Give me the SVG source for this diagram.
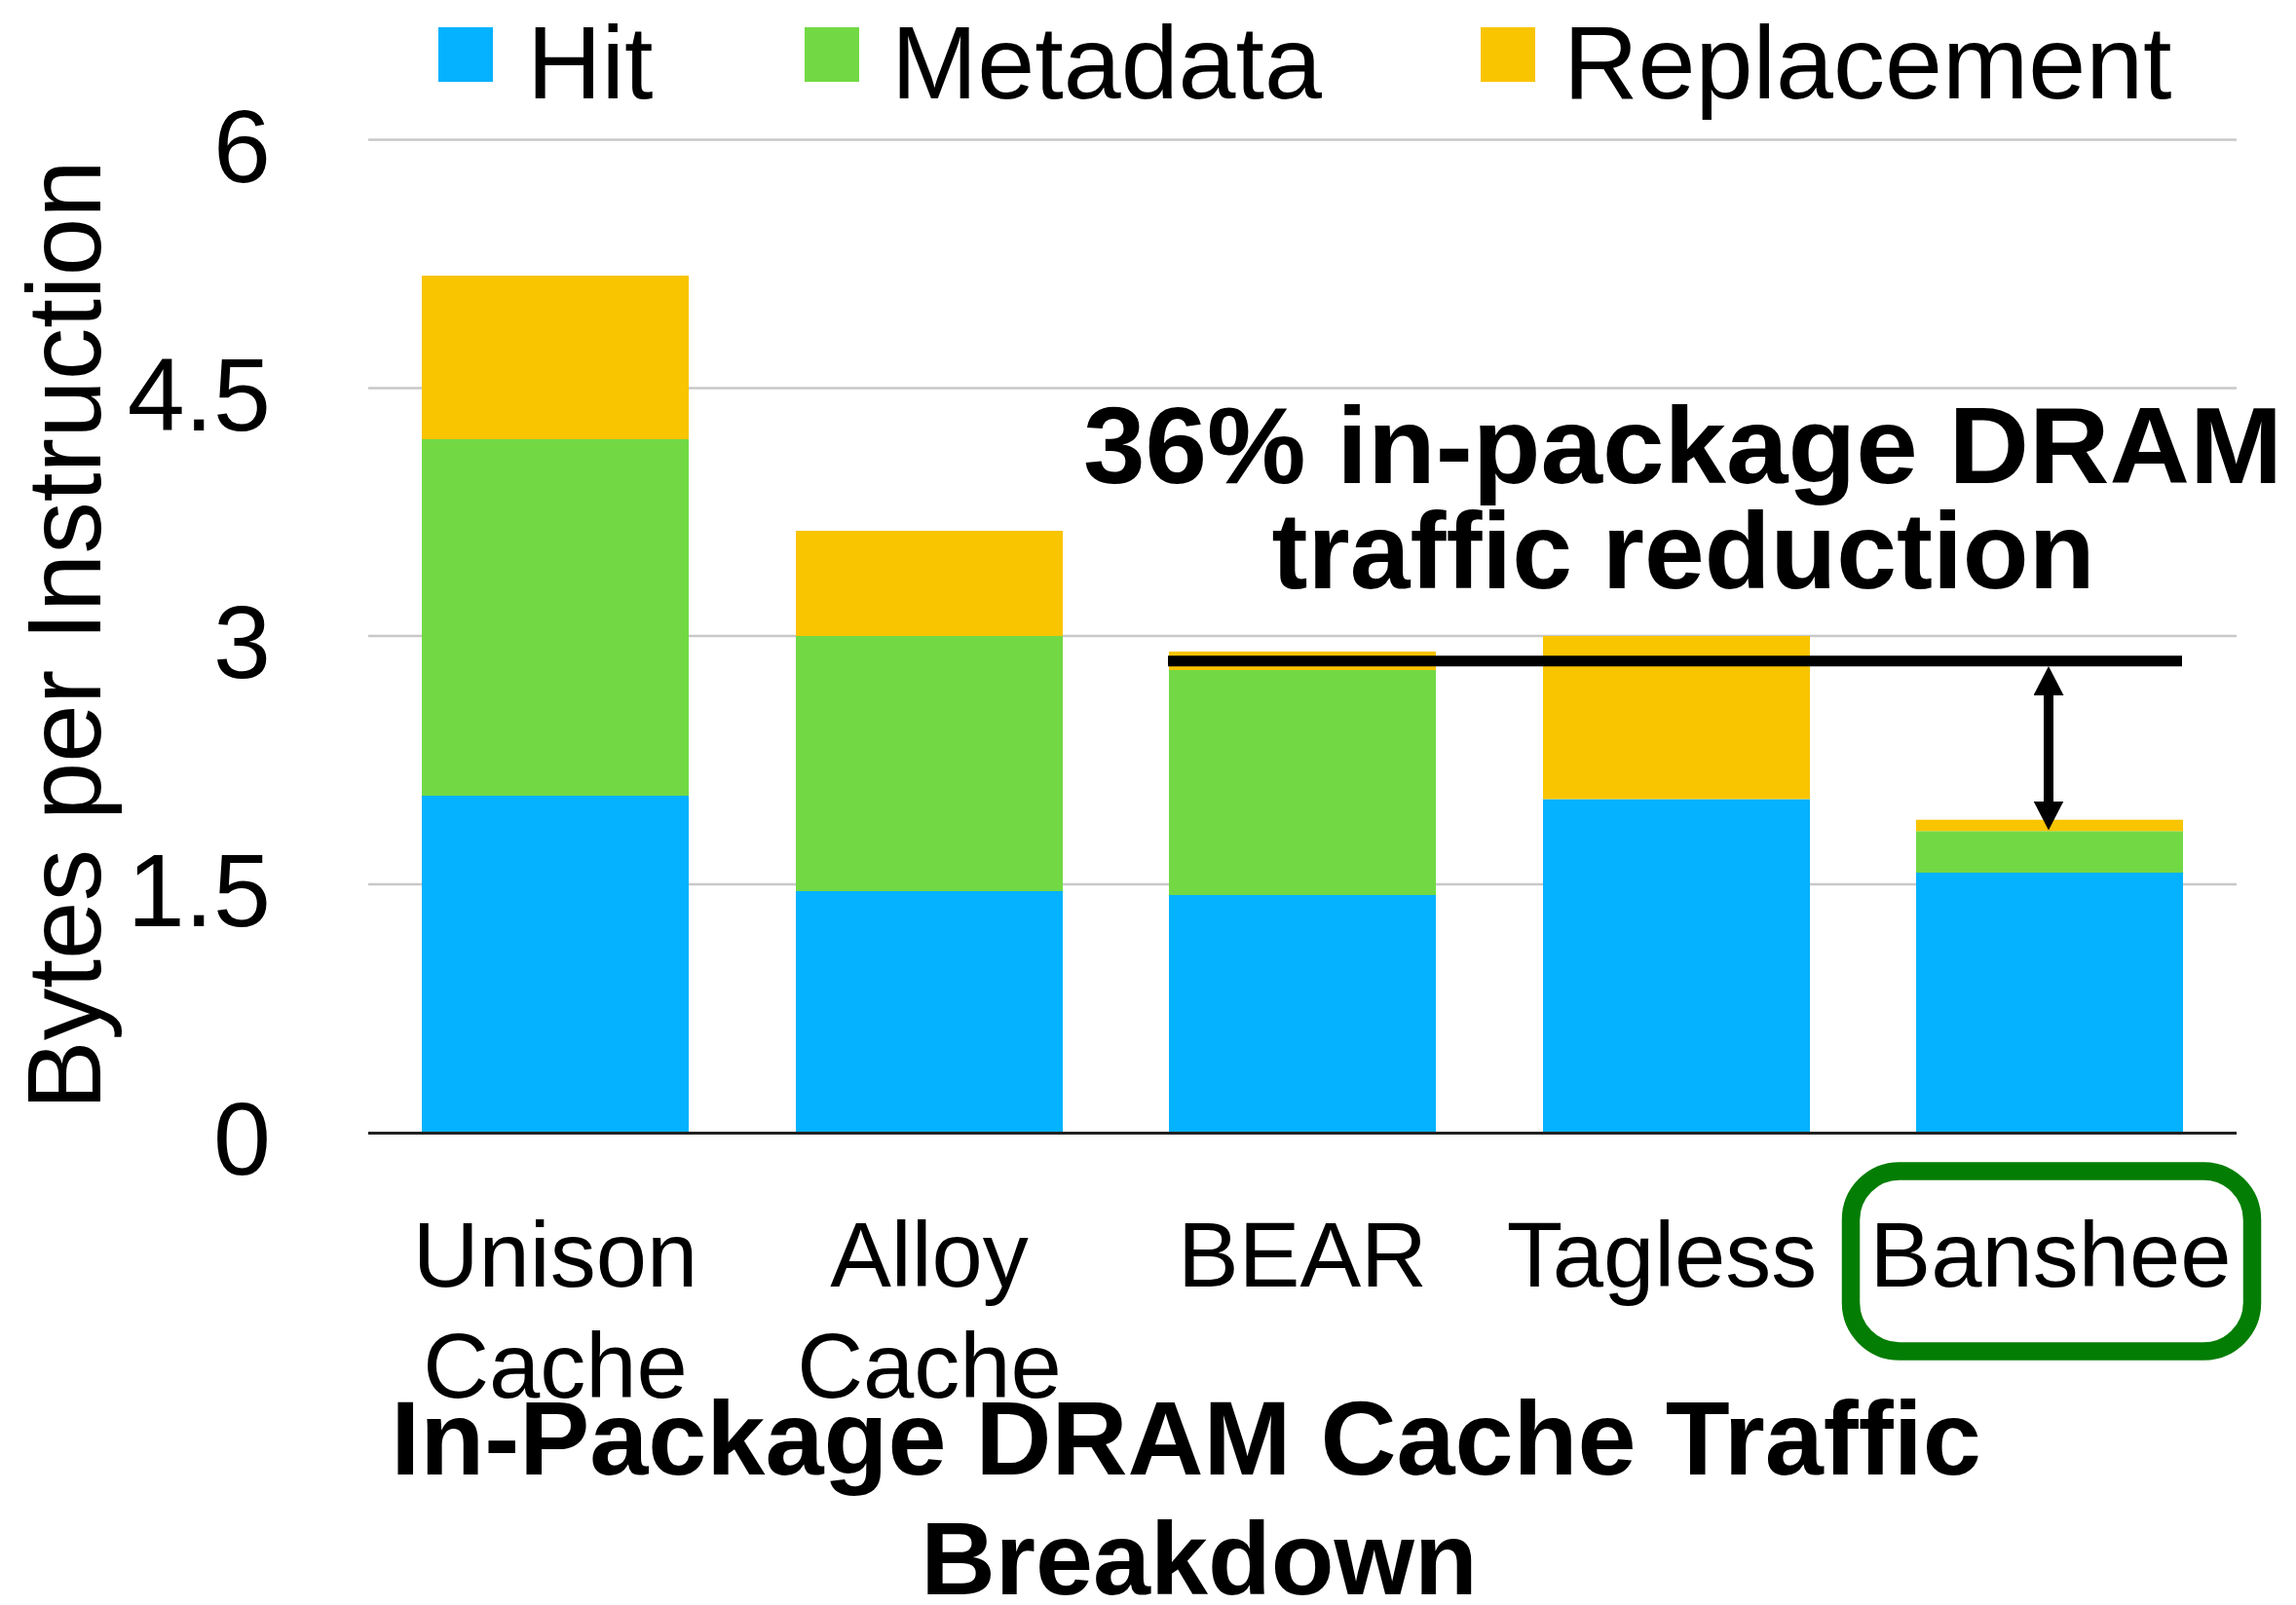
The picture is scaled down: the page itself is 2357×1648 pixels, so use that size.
<svg xmlns="http://www.w3.org/2000/svg" width="2357" height="1648" viewBox="0 0 2357 1648">
  <style>
    .hit { fill: #04B2FF; }
    .meta { fill: #72D944; }
    .repl { fill: #F9C400; }
    .grid { stroke: #C8C8C8; stroke-width: 2.5; }
    .axis { stroke: #222222; stroke-width: 3; }
    .lbl { font-family: "Liberation Sans", Arial, sans-serif; fill: #000; }
    .legend { font-size: 106px; }
    .tick { font-size: 106px; text-anchor: end; }
    .cat { font-size: 94px; text-anchor: middle; }
    .bold { font-weight: bold; text-anchor: middle; }
  </style>
  <defs>
    <marker id="head" viewBox="0 0 30 31" refX="14" refY="15.5" markerWidth="30" markerHeight="31" markerUnits="userSpaceOnUse" orient="auto-start-reverse">
      <path d="M0,0 L30,15.5 L0,31 z" fill="#000"/>
    </marker>
  </defs>
  <rect width="2357" height="1648" fill="#FFFFFF"/>

  <g id="gridlines">
    <line class="grid" x1="378" y1="143.5" x2="2296" y2="143.5"/>
    <line class="grid" x1="378" y1="398.5" x2="2296" y2="398.5"/>
    <line class="grid" x1="378" y1="653" x2="2296" y2="653"/>
    <line class="grid" x1="378" y1="908" x2="2296" y2="908"/>
  </g>

  <g id="legend">
    <rect class="hit" x="450" y="28" width="56" height="56"/>
    <text class="lbl legend" x="541" y="101">Hit</text>
    <rect class="meta" x="826" y="28" width="56" height="56"/>
    <text class="lbl legend" x="915" y="101">Metadata</text>
    <rect class="repl" x="1520" y="28" width="56" height="56"/>
    <text class="lbl legend" x="1605" y="101">Replacement</text>
  </g>

  <g id="y-axis">
    <text class="lbl" font-size="107" text-anchor="middle" transform="translate(103,652) rotate(-90)">Bytes per Instruction</text>
    <text class="lbl tick" x="278" y="187">6</text>
    <text class="lbl tick" x="278" y="442">4.5</text>
    <text class="lbl tick" x="278" y="696">3</text>
    <text class="lbl tick" x="278" y="951">1.5</text>
    <text class="lbl tick" x="278" y="1206">0</text>
  </g>

  <g id="bar-unison">
    <rect class="hit" x="433" y="817" width="274" height="346"/>
    <rect class="meta" x="433" y="451" width="274" height="366"/>
    <rect class="repl" x="433" y="283" width="274" height="168"/>
  </g>
  <g id="bar-alloy">
    <rect class="hit" x="817" y="915" width="274" height="248"/>
    <rect class="meta" x="817" y="653" width="274" height="262"/>
    <rect class="repl" x="817" y="545" width="274" height="108"/>
  </g>
  <g id="bar-bear">
    <rect class="hit" x="1200" y="919" width="274" height="244"/>
    <rect class="meta" x="1200" y="688" width="274" height="231"/>
    <rect class="repl" x="1200" y="669" width="274" height="19"/>
  </g>
  <g id="bar-tagless">
    <rect class="hit" x="1584" y="820.5" width="274" height="342.5"/>
    <rect class="repl" x="1584" y="653" width="274" height="167.5"/>
  </g>
  <g id="bar-banshee">
    <rect class="hit" x="1967" y="896" width="274" height="267"/>
    <rect class="meta" x="1967" y="853.3" width="274" height="42.7"/>
    <rect class="repl" x="1967" y="841.7" width="274" height="11.6"/>
  </g>

  <line class="axis" x1="378" y1="1163.5" x2="2296" y2="1163.5"/>

  <g id="category-labels">
    <text class="lbl cat" x="570" y="1321">Unison</text>
    <text class="lbl cat" x="570" y="1435">Cache</text>
    <text class="lbl cat" x="954" y="1321">Alloy</text>
    <text class="lbl cat" x="954" y="1435">Cache</text>
    <text class="lbl cat" x="1337" y="1321">BEAR</text>
    <text class="lbl cat" x="1706" y="1321">Tagless</text>
    <text class="lbl cat" x="2105" y="1321">Banshee</text>
  </g>

  <g id="banshee-highlight">
    <rect x="1900" y="1202.5" width="412" height="185" rx="50" ry="50" fill="none" stroke="#047D04" stroke-width="18.5"/>
  </g>

  <g id="annotation">
    <text class="lbl bold" font-size="112" x="1727.5" y="496" textLength="1231" lengthAdjust="spacingAndGlyphs">36% in-package DRAM</text>
    <text class="lbl bold" font-size="111" x="1728" y="603.5">traffic reduction</text>
  </g>

  <g id="connectors">
    <line x1="1199" y1="678.8" x2="2240" y2="678.8" stroke="#000" stroke-width="11"/>
    <line x1="2103" y1="700" x2="2103" y2="836.5" stroke="#000" stroke-width="10" marker-start="url(#head)" marker-end="url(#head)"/>
  </g>

  <g id="title">
    <text class="lbl bold" font-size="108" x="1217.5" y="1514">In-Package DRAM Cache Traffic</text>
    <text class="lbl bold" font-size="106" x="1231" y="1637">Breakdown</text>
  </g>
</svg>
